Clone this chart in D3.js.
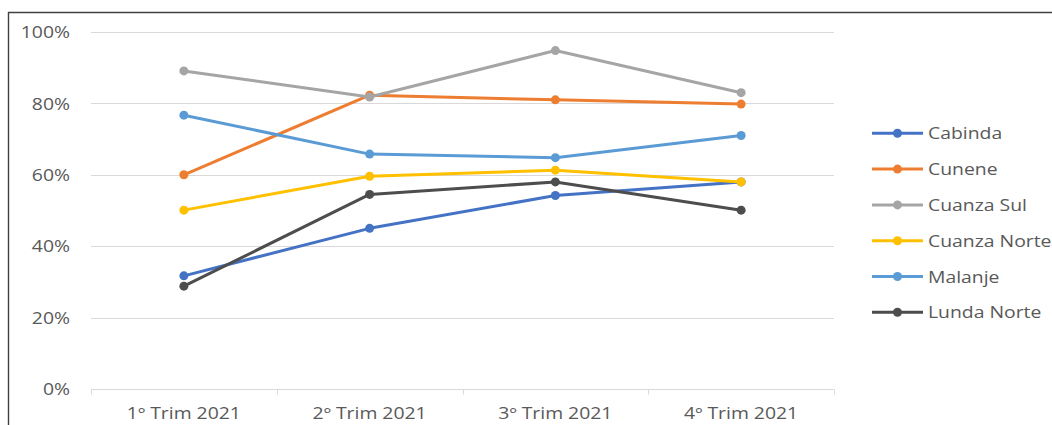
<!DOCTYPE html>
<html>
<head>
<meta charset="utf-8">
<script src="https://cdn.jsdelivr.net/npm/d3@7"></script>
<style>
  html, body { margin: 0; padding: 0; background: #fff; }
  svg { display: block; }
  text { font-family: "Open Sans", sans-serif; fill: #595959; }
</style>
</head>
<body>
<div id="chart"></div>
<script>
// Quarterly share per province, 2021
const categories = ["1º Trim 2021", "2º Trim 2021", "3º Trim 2021", "4º Trim 2021"];
const seriesNames = ["Cabinda", "Cunene", "Cuanza Sul", "Cuanza Norte", "Malanje", "Lunda Norte"];
const cabinda     = [0.317, 0.450, 0.542, 0.580];
const cunene      = [0.600, 0.823, 0.810, 0.798];
const cuanzaSul   = [0.891, 0.818, 0.948, 0.830];
const cuanzaNorte = [0.501, 0.596, 0.613, 0.580];
const malanje     = [0.767, 0.658, 0.648, 0.710];
const lundaNorte  = [0.288, 0.545, 0.580, 0.501];
const yTicks = [0, 0.2, 0.4, 0.6, 0.8, 1.0];
const colors = ["#4472C4", "#ED7D31", "#A5A5A5", "#FFC000", "#5B9BD5", "#4D4D4D"];

const seriesValues = [cabinda, cunene, cuanzaSul, cuanzaNorte, malanje, lundaNorte];
const series = seriesNames.map((name, i) => ({ name, values: seriesValues[i], color: colors[i] }));

const W = 1052, H = 425;
const plot = { left: 91, right: 834, top: 32, bottom: 389 };
const fontSize = 15.5, stretch = 1.25;

const svg = d3.select("#chart").append("svg").attr("width", W).attr("height", H);
svg.append("rect").attr("width", W).attr("height", H).attr("fill", "#fff");

// Outer frame (top and left edges)
svg.append("path")
  .attr("d", `M8.5,${H} V12.5 H${W}`)
  .attr("fill", "none").attr("stroke", "#404040").attr("stroke-width", 1.4);

const x = d3.scaleBand().domain(categories).range([plot.left, plot.right]).paddingInner(0).paddingOuter(0);
const y = d3.scaleLinear().domain([0, 1]).range([plot.bottom, plot.top]);
const cx = c => x(c) + x.bandwidth() / 2;

// Horizontal gridlines
svg.append("g").selectAll("line").data(yTicks.filter(t => t > 0)).join("line")
  .attr("x1", plot.left).attr("x2", plot.right)
  .attr("y1", d => Math.round(y(d)) + 0.5).attr("y2", d => Math.round(y(d)) + 0.5)
  .attr("stroke", "#d9d9d9").attr("stroke-width", 1);

// Category axis: baseline and boundary ticks
const xAxis = svg.append("g").attr("transform", `translate(0,${Math.round(plot.bottom) + 0.5})`);
xAxis.append("line").attr("x1", plot.left).attr("x2", plot.right).attr("stroke", "#d9d9d9");
const bounds = categories.map(c => x(c)).concat([plot.right]);
xAxis.selectAll("line.tk").data(bounds).join("line").attr("class", "tk")
  .attr("x1", d => Math.round(d) + 0.5).attr("x2", d => Math.round(d) + 0.5)
  .attr("y1", 0).attr("y2", 5).attr("stroke", "#d9d9d9");

function stretchedText(g, tx, ty, str, anchor) {
  return g.append("text")
    .attr("transform", `translate(${tx},${ty}) scale(${stretch},1)`)
    .attr("text-anchor", anchor).attr("dominant-baseline", "central")
    .attr("font-size", fontSize).text(str);
}

const labels = svg.append("g");
categories.forEach(c => stretchedText(labels, cx(c), 413, c, "middle"));
const fmt = d3.format(".0%");
yTicks.forEach(t => stretchedText(labels, 70, y(t), fmt(t), "end"));

// Series lines and markers
const line = d3.line().x((d, i) => cx(categories[i])).y(d => y(d));
const gSeries = svg.append("g");
series.forEach(s => {
  gSeries.append("path").attr("d", line(s.values))
    .attr("fill", "none").attr("stroke", s.color).attr("stroke-width", 3)
    .attr("stroke-linejoin", "round").attr("stroke-linecap", "round");
  gSeries.append("g").selectAll("circle").data(s.values).join("circle")
    .attr("cx", (d, i) => cx(categories[i])).attr("cy", d => y(d))
    .attr("r", 4.5).attr("fill", s.color);
});

// Legend
const legend = svg.append("g");
const legendTop = 133.3, legendStep = 35.8;
series.forEach((s, i) => {
  const ly = legendTop + i * legendStep;
  legend.append("line").attr("x1", 872).attr("x2", 923).attr("y1", ly).attr("y2", ly)
    .attr("stroke", s.color).attr("stroke-width", 3);
  legend.append("circle").attr("cx", 897.5).attr("cy", ly).attr("r", 4.5).attr("fill", s.color);
  stretchedText(legend, 928, ly, s.name, "start");
});
</script>
</body>
</html>
